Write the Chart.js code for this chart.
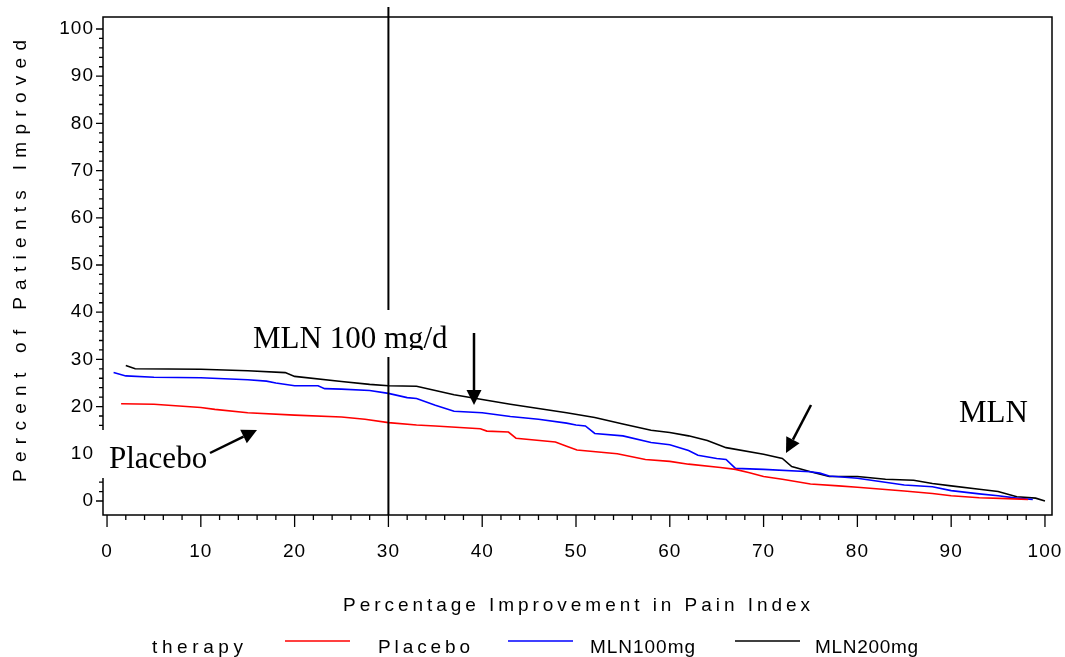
<!DOCTYPE html>
<html lang="en">
<head>
<meta charset="UTF-8">
<title>Percent of Patients Improved</title>
<script src="https://cdn.jsdelivr.net/npm/chart.js"></script>
<style>
    body { margin: 0; background: #fff; }
    #wrap { width: 1065px; height: 657px; }
</style>
</head>
<body>
<div id="wrap"><canvas id="painChart" width="1065" height="657"></canvas></div>
<script>
// x = percentage improvement in pain index, y = percent of patients improved
const placeboX = [1.5, 5, 10, 11.5, 15, 20, 25, 27.5, 30, 33, 35, 39.8, 40.5, 42.8, 43.6, 47.8, 49, 50.1, 54.4, 57.4, 60, 62, 65.4, 67, 68.5, 70, 72, 75, 78, 80, 85, 88, 90, 93, 96, 98.2];
const placeboY = [20.6, 20.5, 19.8, 19.4, 18.7, 18.2, 17.8, 17.3, 16.6, 16.1, 15.9, 15.3, 14.8, 14.6, 13.3, 12.5, 11.6, 10.8, 10.0, 8.8, 8.4, 7.8, 7.1, 6.7, 6.0, 5.2, 4.6, 3.6, 3.2, 2.9, 2.1, 1.6, 1.1, 0.7, 0.5, 0.3];

const mln100X = [0.7, 2, 5, 10, 15, 17, 18, 20, 22.5, 23.2, 25, 28, 30, 32, 33, 35, 37, 40, 43, 46, 49, 50, 51, 52, 55, 58, 60, 62, 63, 65, 66, 67, 70, 75, 76, 77, 80, 85, 88, 90, 93, 95, 97, 98.7];
const mln100Y = [27.2, 26.5, 26.2, 26.1, 25.7, 25.4, 25.0, 24.4, 24.4, 23.8, 23.7, 23.4, 22.8, 21.9, 21.7, 20.3, 19.0, 18.7, 17.9, 17.3, 16.5, 16.1, 15.9, 14.3, 13.8, 12.4, 11.9, 10.7, 9.7, 9.0, 8.8, 6.9, 6.7, 6.2, 5.9, 5.3, 4.8, 3.4, 3.0, 2.2, 1.5, 1.1, 0.6, 0.3];

const mln200X = [2, 3, 10, 15, 19, 20, 25, 28, 30, 33, 35, 37, 40, 43, 46, 49, 52, 55, 58, 60, 62, 64, 66, 70, 72, 73, 75, 77, 80, 83, 86, 88, 90, 93, 95, 97, 99, 100];
const mln200Y = [28.7, 28.0, 27.9, 27.6, 27.2, 26.4, 25.3, 24.7, 24.4, 24.3, 23.4, 22.5, 21.5, 20.5, 19.6, 18.7, 17.7, 16.3, 15.0, 14.5, 13.8, 12.8, 11.3, 9.9, 9.0, 7.3, 6.2, 5.2, 5.2, 4.6, 4.4, 3.7, 3.2, 2.5, 2.0, 0.9, 0.6, 0.0];

const seriesNames = ['Placebo', 'MLN100mg', 'MLN200mg'];
const seriesColors = ['#ff0000', '#0000ff', '#000000'];

const xTickValues = [0, 10, 20, 30, 40, 50, 60, 70, 80, 90, 100];
const xTickLabels = ['0', '10', '20', '30', '40', '50', '60', '70', '80', '90', '100'];
const yTickValues = [0, 10, 20, 30, 40, 50, 60, 70, 80, 90, 100];
const yTickLabels = ['0', '10', '20', '30', '40', '50', '60', '70', '80', '90', '100'];
const minorStep = 2;
const cutoffX = 30;

const xTitle = 'Percentage Improvement in Pain Index';
const yTitle = 'Percent of Patients Improved';
const legendTitle = 'therapy';

function toPoints(xs, ys) {
    return xs.map((x, i) => ({ x: x, y: ys[i] }));
}

// draw text letter by letter, spread to fill a given width (SAS-style spacing)
function spacedText(ctx, text, left, y, width) {
    const chars = [...text];
    const widths = chars.map(c => ctx.measureText(c).width);
    const natural = widths.reduce((a, b) => a + b, 0);
    const gap = (width - natural) / (chars.length - 1);
    let x = left;
    ctx.textAlign = 'left';
    chars.forEach((c, i) => {
        ctx.fillText(c, x, y);
        x += widths[i] + gap;
    });
}

function arrow(ctx, x1, y1, x2, y2) {
    const ang = Math.atan2(y2 - y1, x2 - x1);
    const len = 15, half = 7.5;
    const bx = x2 - len * Math.cos(ang), by = y2 - len * Math.sin(ang);
    ctx.lineWidth = 2.5;
    ctx.beginPath();
    ctx.moveTo(x1, y1);
    ctx.lineTo(bx, by);
    ctx.stroke();
    ctx.beginPath();
    ctx.moveTo(x2, y2);
    ctx.lineTo(bx - half * Math.sin(ang), by + half * Math.cos(ang));
    ctx.lineTo(bx + half * Math.sin(ang), by - half * Math.cos(ang));
    ctx.closePath();
    ctx.fill();
}

const overlay = {
    id: 'overlay',
    afterDatasetsDraw(chart) {
        const ctx = chart.ctx;
        const area = chart.chartArea;
        const xs = chart.scales.x;
        const ys = chart.scales.y;
        ctx.save();
        ctx.strokeStyle = '#000';
        ctx.fillStyle = '#000';

        // frame
        ctx.lineWidth = 1.5;
        ctx.strokeRect(area.left, area.top, area.right - area.left, area.bottom - area.top);

        // major and minor ticks
        ctx.lineWidth = 1.3;
        ctx.beginPath();
        for (let v = xTickValues[0]; v <= xTickValues[xTickValues.length - 1]; v += minorStep) {
            const major = v % 10 === 0;
            const px = xs.getPixelForValue(v);
            ctx.moveTo(px, area.bottom);
            ctx.lineTo(px, area.bottom + (major ? 12 : 5));
        }
        for (let v = yTickValues[0]; v <= yTickValues[yTickValues.length - 1]; v += minorStep) {
            const major = v % 10 === 0;
            const py = ys.getPixelForValue(v);
            ctx.moveTo(area.left, py);
            ctx.lineTo(area.left - (major ? 7 : 4), py);
        }
        ctx.stroke();

        // tick labels
        ctx.font = '19px "Liberation Sans", Arial, sans-serif';
        ctx.letterSpacing = '1px';
        ctx.textBaseline = 'middle';
        ctx.textAlign = 'center';
        xTickValues.forEach((v, i) => {
            ctx.fillText(xTickLabels[i], xs.getPixelForValue(v), 552);
        });
        ctx.textAlign = 'right';
        yTickValues.forEach((v, i) => {
            ctx.fillText(yTickLabels[i], 94, ys.getPixelForValue(v));
        });
        ctx.letterSpacing = '0px';

        // axis titles
        spacedText(ctx, xTitle, 343, 606, 467);
        ctx.save();
        ctx.translate(21, 482);
        ctx.rotate(-Math.PI / 2);
        spacedText(ctx, yTitle, 0, 0, 442);
        ctx.restore();

        // legend
        const legendY = 648;
        spacedText(ctx, legendTitle, 152, legendY, 91);
        const lineStarts = [285, 508, 735];
        const textStarts = [378, 590, 815];
        const textWidths = [92, 105, 103];
        seriesNames.forEach((name, i) => {
            ctx.strokeStyle = seriesColors[i];
            ctx.lineWidth = 1.5;
            ctx.beginPath();
            ctx.moveTo(lineStarts[i], 641);
            ctx.lineTo(lineStarts[i] + 65, 641);
            ctx.stroke();
            spacedText(ctx, name, textStarts[i], legendY, textWidths[i]);
        });
        ctx.strokeStyle = '#000';

        // 30% cut-off line
        const cx = xs.getPixelForValue(cutoffX);
        ctx.lineWidth = 2;
        ctx.beginPath();
        ctx.moveTo(cx, 7);
        ctx.lineTo(cx, area.bottom);
        ctx.stroke();

        // white label boxes
        ctx.fillStyle = '#fff';
        ctx.fillRect(248, 310, 214, 47);
        ctx.fillRect(94, 430, 119, 48);
        ctx.fillStyle = '#000';

        ctx.font = '31px "Liberation Serif", "Times New Roman", serif';
        ctx.textBaseline = 'alphabetic';
        ctx.textAlign = 'left';
        ctx.save();
        ctx.beginPath();
        ctx.rect(240, 300, 240, 50);
        ctx.clip();
        ctx.fillText('MLN 100 mg/d', 253, 348);
        ctx.restore();
        ctx.fillText('Placebo', 109, 468);
        ctx.fillText('MLN', 959, 422);

        arrow(ctx, 474, 333, 474, 405);
        arrow(ctx, 210, 453, 257, 430);
        arrow(ctx, 811, 405, 786, 453);

        ctx.restore();
    }
};

const ctx = document.getElementById('painChart').getContext('2d');
const datasets = [
    toPoints(placeboX, placeboY),
    toPoints(mln100X, mln100Y),
    toPoints(mln200X, mln200Y)
].map((pts, i) => ({
    label: seriesNames[i],
    data: pts,
    borderColor: seriesColors[i],
    backgroundColor: seriesColors[i],
    borderWidth: 1.6,
    pointRadius: 0,
    tension: 0,
    fill: false
}));

new Chart(ctx, {
    type: 'line',
    data: { datasets: datasets },
    options: {
        responsive: false,
        animation: false,
        devicePixelRatio: 1,
        layout: { padding: { left: 103, right: 13, top: 17, bottom: 142 } },
        plugins: {
            legend: { display: false },
            tooltip: { enabled: false }
        },
        scales: {
            x: { type: 'linear', min: -0.43, max: 100.75, display: false },
            y: { type: 'linear', min: -2.97, max: 102.54, display: false }
        }
    },
    plugins: [overlay]
});
</script>
</body>
</html>
